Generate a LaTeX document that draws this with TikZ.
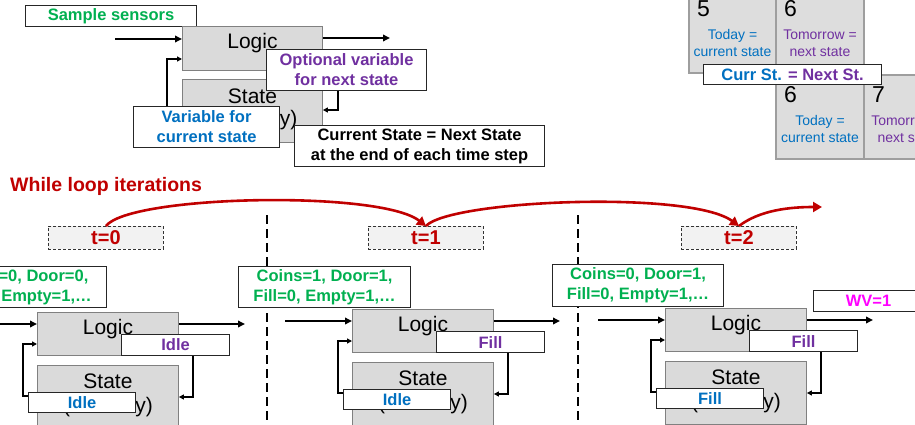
\documentclass[tikz,border=0pt]{standalone}
\usepackage{fontspec}
\setmainfont{Liberation Sans}
\usetikzlibrary{arrows.meta}

\definecolor{cgreen}{HTML}{00B050}
\definecolor{cblue}{HTML}{0070C0}
\definecolor{cpurple}{HTML}{7030A0}
\definecolor{cred}{HTML}{C00000}
\definecolor{cmagenta}{HTML}{FF00FF}
\definecolor{blockfill}{HTML}{DADADA}
\definecolor{cellfill}{HTML}{DDDDDD}
\definecolor{tfill}{HTML}{F2F2F2}

\newcommand\lblfont{\fontsize{16.5}{20}\selectfont\bfseries}
\newcommand\blkfont{\fontsize{21}{24}\selectfont}
\newcommand\cellfont{\fontsize{14}{17}\selectfont}
\newcommand\numfont{\fontsize{23}{26}\selectfont}

\tikzset{
  grayblk/.style={draw=black!50, fill=blockfill, line width=0.9pt, inner sep=0pt, anchor=north west},
  blocktext/.style={font=\blkfont, inner sep=0pt},
  tagbox/.style={draw=black!85, fill=white, line width=1.1pt, inner sep=0pt,
                 anchor=north west, align=center, font=\lblfont},
  tbox/.style={draw=black!80, fill=tfill, dashed, dash pattern=on 3pt off 2pt, line width=0.9pt,
               inner sep=0pt, anchor=north west, font=\fontsize{20}{24}\selectfont\bfseries, text=cred},
  cell/.style={draw=black!38, fill=cellfill, line width=2pt, inner sep=0pt, anchor=north west},
  flow/.style={line width=1.8pt, -{Triangle[length=7pt,width=6.5pt]}},
  loopback/.style={line width=1.5pt, -{Triangle[length=5pt,width=5pt]}},
  redarc/.style={draw=cred, line width=2.6pt, -{Triangle[length=9pt,width=10pt]}},
  divider/.style={line width=2.8pt, dash pattern=on 9pt off 5pt},
}

% one iteration of the loop: Logic and State blocks with their labels
\newcommand\iterstep[5]{%
  \begin{scope}[shift={(#2,#3)}]
    \node[grayblk, minimum width=141pt, minimum height=63pt] (st#1) at (37,365) {};
    \node[blocktext] at ([yshift=-16pt]st#1.north) {State};
    \node[blocktext] at ([yshift=-42pt]st#1.north) {(Memory)};
    \node[grayblk, minimum width=141pt, minimum height=43pt] (lg#1) at (37,312) {};
    \node[blocktext] at ([yshift=-17pt]lg#1.north) {Logic};
    \coordinate (in#1) at (-30,324);
    \coordinate (out#1) at (245,324);
    \draw[flow] (in#1) -- (in#1 -| lg#1.west);
    \draw[flow] (out#1 -| lg#1.east) -- (out#1);
    \coordinate (fr#1) at (193,397);
    \coordinate (fl#1) at (23,396);
    \coordinate (fa#1) at (37,344);
    \draw[loopback] (fr#1 |- 0,350) -- (fr#1) -- (fr#1 -| st#1.east);
    \draw[loopback] (fl#1 -| 40,0) -- (fl#1) |- (lg#1.west |- fa#1);
    \node[tagbox, minimum width=108pt, minimum height=21pt, text=cpurple] (nx#1) at (121,334) {#4};
    \node[tagbox, minimum width=107pt, minimum height=20pt, text=cblue] (cu#1) at (28,392) {#5};
  \end{scope}}

\begin{document}
\begin{tikzpicture}[x=1pt,y=-1pt]
\path[use as bounding box] (0,0) rectangle (915,425);
\clip (0,0) rectangle (915,425);

% ---------- state machine overview ----------
\node[tagbox, minimum width=171pt, minimum height=21pt, text=cgreen] (sense) at (25,5) {Sample sensors};
\node[grayblk, minimum width=140pt, minimum height=63pt] (stT) at (182,79) {};
\node[blocktext] at ([yshift=-17pt]stT.north) {State};
\node[blocktext] at ([yshift=-41pt]stT.north) {(Memory)};
\node[grayblk, minimum width=140pt, minimum height=44pt] (lgT) at (182,26) {};
\node[blocktext] at ([yshift=-17pt]lgT.north) {Logic};
\coordinate (inT) at (115,39);
\coordinate (outT) at (390,38);
\draw[flow] (inT) -- (inT -| lgT.west);
\draw[flow] (outT -| lgT.east) -- (outT);
\coordinate (frT) at (338,110);
\coordinate (flT) at (167,118);
\coordinate (faT) at (182,59);
\draw[loopback] (frT |- 0,85) -- (frT) -- (frT -| stT.east);
\draw[loopback] (flT) |- (lgT.west |- faT);
\node[tagbox, minimum width=160pt, minimum height=41pt, text=cpurple] (optv) at (266,49)
  {Optional variable\\for next state};
\node[tagbox, minimum width=146pt, minimum height=41pt, text=cblue] (curv) at (133,106)
  {Variable for\\current state};
\node[tagbox, minimum width=250pt, minimum height=41pt] (upd) at (294,125)
  {Current State = Next State\\at the end of each time step};

% ---------- today / tomorrow calendar ----------
\node[cell, minimum width=87pt, minimum height=84pt] (c5) at (688,-12) {};
\node[cell, minimum width=88pt, minimum height=84pt] (c6a) at (775,-12) {};
\node[cell, minimum width=88pt, minimum height=84pt] (c6b) at (775,74) {};
\node[cell, minimum width=88pt, minimum height=84pt] (c7) at (863,74) {};
\foreach \c/\n/\col/\a/\b in {c5/5/cblue/Today =/current state,
                                c6a/6/cpurple/Tomorrow =/next state,
                                c6b/6/cblue/Today =/current state,
                                c7/7/cpurple/Tomorrow =/next state}{
  \node[font=\numfont, inner sep=0pt, anchor=west] at ([xshift=9pt,yshift=-21pt]\c.north west) {\n};
  \node[font=\cellfont, text=\col, inner sep=0pt, align=center] at ([yshift=-55pt]\c.north) {\a\\\b};
}
\node[tagbox, minimum width=178pt, minimum height=20pt] (swap) at (703,64)
  {\textcolor{cblue}{Curr St.} \textcolor{cpurple}{= Next St.}};

% ---------- while loop iterations ----------
\node[font=\fontsize{19.5}{23}\selectfont\bfseries, text=cred, anchor=west, inner sep=0pt] (wl) at (10,186)
  {While loop iterations};
\coordinate (d1) at (267,215);
\coordinate (d2) at (578,215);
\draw[divider] (d1) -- (d1 |- 0,425);
\draw[divider] (d2) -- (d2 |- 0,425);

\node[tbox, minimum width=115pt, minimum height=23pt] (t0) at (48,226) {t=0};
\node[tbox, minimum width=115pt, minimum height=23pt] (t1) at (368,226) {t=1};
\node[tbox, minimum width=115pt, minimum height=23pt] (t2) at (681,226) {t=2};
\coordinate (tnext) at (822,207);
\draw[redarc] (t0.north) .. controls (130,195) and (380,190) .. (t1.north);
\draw[redarc] (t1.north) .. controls (450,200) and (690,190) .. (t2.north);
\draw[redarc] (t2.north) .. controls (760,210) and (790,207) .. (tnext);

\iterstep{a}{0}{0}{Idle}{Idle}
\iterstep{b}{315}{-3}{Fill}{Idle}
\iterstep{c}{628}{-4}{Fill}{Fill}

\node[tagbox, minimum width=172pt, minimum height=41pt, text=cgreen] (s0) at (-66,266)
  {Coins=0, Door=0,\\Fill=0, Empty=1,…};
\node[tagbox, minimum width=172pt, minimum height=41pt, text=cgreen] (s1) at (238,266)
  {Coins=1, Door=1,\\Fill=0, Empty=1,…};
\node[tagbox, minimum width=171pt, minimum height=42pt, text=cgreen] (s2) at (552,264)
  {Coins=0, Door=1,\\Fill=0, Empty=1,…};
\node[tagbox, minimum width=110pt, minimum height=21pt, text=cmagenta] (wv) at (813,290) {WV=1};
\end{tikzpicture}
\end{document}
